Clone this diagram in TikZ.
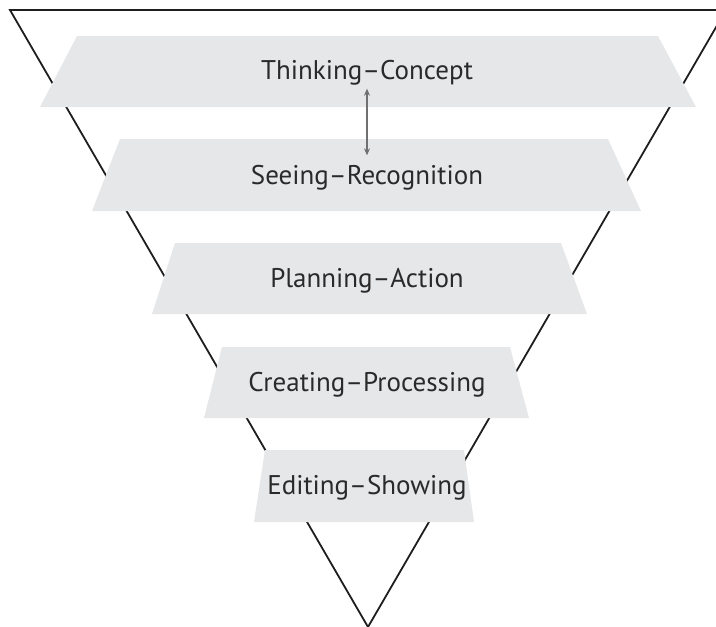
\documentclass[tikz,border=0pt]{standalone}
\usepackage{fontspec}
\setmainfont{PT Sans}
\usetikzlibrary{arrows.meta}
\definecolor{bandgray}{HTML}{E6E7E8}
\definecolor{txtgray}{HTML}{2A2A2A}
\definecolor{arrgray}{HTML}{707070}
\definecolor{linecol}{HTML}{1E1E1E}
\tikzset{
  band/.style={fill=bandgray, draw=none},
  edge/.style={draw=linecol, line width=1.8pt, line join=miter},
  label/.style={text=txtgray, font=\fontsize{27}{32}\selectfont, inner sep=0pt},
  link/.style={draw=arrgray, line width=1.1pt, {Stealth[length=7pt,width=6pt]}-{Stealth[length=7pt,width=6pt]}}
}
\begin{document}
\begin{tikzpicture}[x=1pt,y=-1pt]
\useasboundingbox (0,0) rectangle (716,627);
\clip (0,0) rectangle (716,627);
% funnel
\coordinate (tl) at (10,10);
\coordinate (tr) at (726,10);
\coordinate (ap) at (368,627);
\draw[edge] (tr) -- (tl) -- (ap) -- (tr);
% bands
\fill[band] (77,36) -- (658,36) -- (696,107) -- (40,107) -- cycle;
\fill[band] (120,139) -- (608,139) -- (641,211) -- (92,211) -- cycle;
\fill[band] (175,243) -- (561,243) -- (587,314) -- (152,314) -- cycle;
\fill[band] (222,347) -- (510,347) -- (529,418) -- (204,418) -- cycle;
\fill[band] (265,450) -- (464,450) -- (474,522) -- (254,522) -- cycle;
% labels
\node[label] (t1) at (367,73) {Thinking--Concept};
\node[label] (t2) at (367,178) {Seeing--Recognition};
\node[label] (t3) at (367,281) {Planning--Action};
\node[label] (t4) at (367,385) {Creating--Processing};
\node[label] (t5) at (367,488) {Editing--Showing};
\draw[link] ([yshift=-3pt]t1.south) -- ([yshift=10pt]t2.north);
\end{tikzpicture}
\end{document}
